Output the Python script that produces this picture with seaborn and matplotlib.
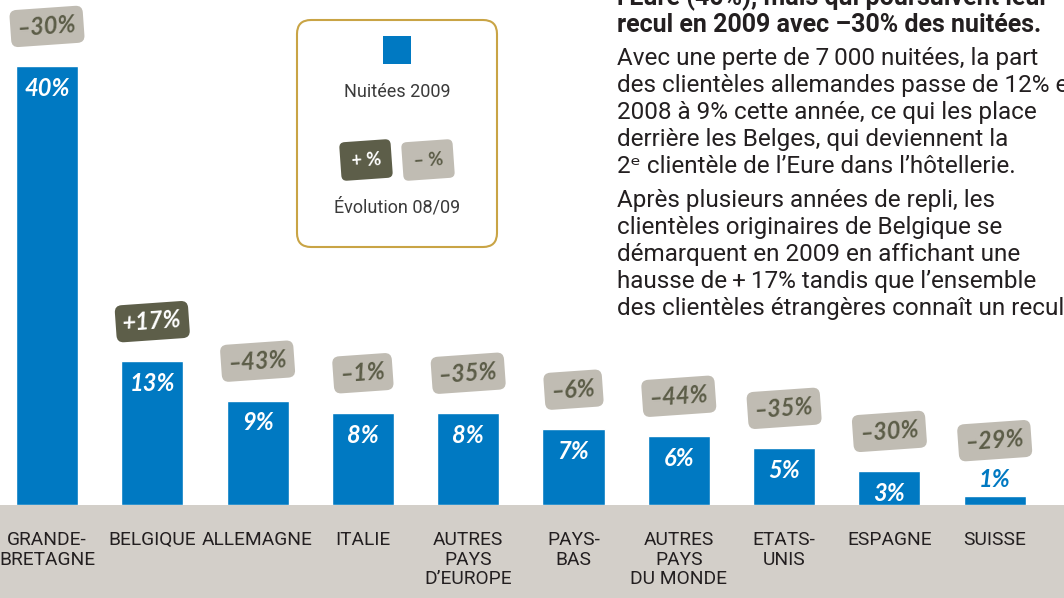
import matplotlib
matplotlib.use("Agg")
import matplotlib.pyplot as plt
import seaborn as sns
import pandas as pd
from matplotlib.patches import FancyBboxPatch, Rectangle

# ---------------- data ----------------
categories = ["GRANDE-\nBRETAGNE", "BELGIQUE", "ALLEMAGNE", "ITALIE",
              "AUTRES\nPAYS\nD\u2019EUROPE", "PAYS-\nBAS", "AUTRES\nPAYS\nDU MONDE",
              "ETATS-\nUNIS", "ESPAGNE", "SUISSE"]
share_2009 = [40.0, 13.1, 9.5, 8.4, 8.4, 6.9, 6.3, 5.2, 3.1, 0.8]
share_labels = ["40%", "13%", "9%", "8%", "8%", "7%", "6%", "5%", "3%", "1%"]
evolution_0809 = [-30, 17, -43, -1, -35, -6, -44, -35, -30, -29]

legend_share = "Nuitées 2009"
legend_evol = "Évolution 08/09"

bold_lines = ["l\u2019Eure (40%), mais qui poursuivent leur",
              "recul en 2009 avec \u201330% des nuitées."]
para1 = ["Avec une perte de 7\u2009000 nuitées, la part",
         "des clientèles allemandes passe de 12% en",
         "2008 à 9% cette année, ce qui les place",
         "derrière les Belges, qui deviennent la",
         "2\u1d49 clientèle de l\u2019Eure dans l\u2019hôtellerie."]
para2 = ["Après plusieurs années de repli, les",
         "clientèles originaires de Belgique se",
         "démarquent en 2009 en affichant une",
         "hausse de\u2009+\u200917% tandis que l\u2019ensemble",
         "des clientèles étrangères connaît un recul"]

# ---------------- style ----------------
BLUE = "#0079c2"
BAND = "#d3cfc9"
BADGE_LIGHT = "#c0bcb3"
BADGE_DARK = "#5d5e49"
BADGE_TXT = "#5c5d48"
GOLD = "#c9a445"
INK = "#231f20"

sns.set_theme(style="white")
plt.rcParams["font.family"] = ["Roboto", "DejaVu Sans"]

W, H = 1064, 598
BASE = 505            # baseline pixel row
fig = plt.figure(figsize=(W / 100, H / 100), dpi=100)
fig.patch.set_facecolor("white")

# bottom band
fig.add_artist(Rectangle((0, 0), 1, (H - BASE) / H, transform=fig.transFigure,
                         facecolor=BAND, edgecolor="none", zorder=-1))

# ---------------- bar axes ----------------
ax = fig.add_axes([0, (H - BASE) / H, 1, BASE / H])
ax.patch.set_visible(False)
df = pd.DataFrame({"cat": categories, "share": share_2009})
sns.barplot(data=df, x="cat", y="share", color=BLUE, saturation=1,
            width=0.589, ax=ax, errorbar=None)
step = 105.3
ax.set_xlim(-47 / step, (W - 47) / step)
ax.set_ylim(0, BASE / 10.975)
sns.despine(ax=ax, left=True, bottom=True)
ax.set_yticks([])
ax.set_xlabel("")
ax.set_ylabel("")
ax.tick_params(axis="x", length=0, pad=18.5)
for lab in ax.get_xticklabels():
    lab.set_family(["Liberation Sans Narrow", "Roboto"])
    lab.set_fontsize(13.8)
    lab.set_color(INK)
    lab.set_linespacing(1.13)

badge_font = dict(family=["Lato", "DejaVu Sans"], fontstyle="italic", fontweight="bold")

for i, (v, lab, ev) in enumerate(zip(share_2009, share_labels, evolution_0809)):
    small = v < 2
    # value label
    if small:
        ax.annotate(lab, xy=(i, v), xytext=(0, 12), textcoords="offset points",
                    ha="center", va="center", fontsize=17, color=BLUE, **badge_font)
    else:
        ax.annotate(lab, xy=(i, v), xytext=(0, -16), textcoords="offset points",
                    ha="center", va="center", fontsize=17, color="white", **badge_font)
    # evolution badge
    if ev > 0:
        txt, fc, tc = f"+{ev}%", BADGE_DARK, "white"
    else:
        txt, fc, tc = f"\u2013{abs(ev)}%", BADGE_LIGHT, BADGE_TXT
    ax.annotate(txt, xy=(i, v), xytext=(0, 40 if small else 28.5),
                textcoords="offset points", ha="center", va="center",
                rotation=4, fontsize=17, color=tc, **badge_font,
                bbox=dict(boxstyle="round,pad=0.3,rounding_size=0.3",
                          fc=fc, ec="none"))

# ---------------- overlay (legend + text) ----------------
ov = fig.add_axes([0, 0, 1, 1], zorder=3)
ov.set_xlim(0, W)
ov.set_ylim(H, 0)
ov.axis("off")
ov.patch.set_visible(False)

ov.add_patch(FancyBboxPatch((297, 20), 200, 227,
                            boxstyle="round,pad=0,rounding_size=14",
                            fc="white", ec=GOLD, lw=1.5))
ov.add_patch(Rectangle((383, 36), 28, 28, fc=BLUE, ec="none"))
ov.text(397, 92, legend_share, ha="center", va="center", fontsize=13,
        color="#3a3a3a", family=["Roboto", "DejaVu Sans"])
ov.text(397, 207, legend_evol, ha="center", va="center", fontsize=13,
        color="#3a3a3a", family=["Roboto", "DejaVu Sans"])
ov.text(366, 160, "+ %", ha="center", va="center", rotation=4, fontsize=13,
        color="white", fontweight="bold", family=["Lato", "DejaVu Sans"],
        bbox=dict(boxstyle="round,pad=0.6,rounding_size=0.3", fc=BADGE_DARK, ec="none"))
ov.text(428, 160, "\u2013 %", ha="center", va="center", rotation=4, fontsize=13,
        color=BADGE_TXT, fontweight="bold", family=["Lato", "DejaVu Sans"],
        bbox=dict(boxstyle="round,pad=0.6,rounding_size=0.3", fc=BADGE_LIGHT, ec="none"))

TX = 617
fam = ["Roboto", "DejaVu Sans"]
for k, line in enumerate(bold_lines):
    ov.text(TX, 5 + 27 * k, line, ha="left", va="baseline", fontsize=18,
            fontweight="bold", color=INK, family=fam)
for k, line in enumerate(para1):
    ov.text(TX, 65 + 27 * k, line, ha="left", va="baseline", fontsize=17.5,
            color=INK, family=fam)
for k, line in enumerate(para2):
    ov.text(TX, 207 + 27 * k, line, ha="left", va="baseline", fontsize=17.5,
            color=INK, family=fam)

fig.savefig("out.png", dpi=100, facecolor="white")
